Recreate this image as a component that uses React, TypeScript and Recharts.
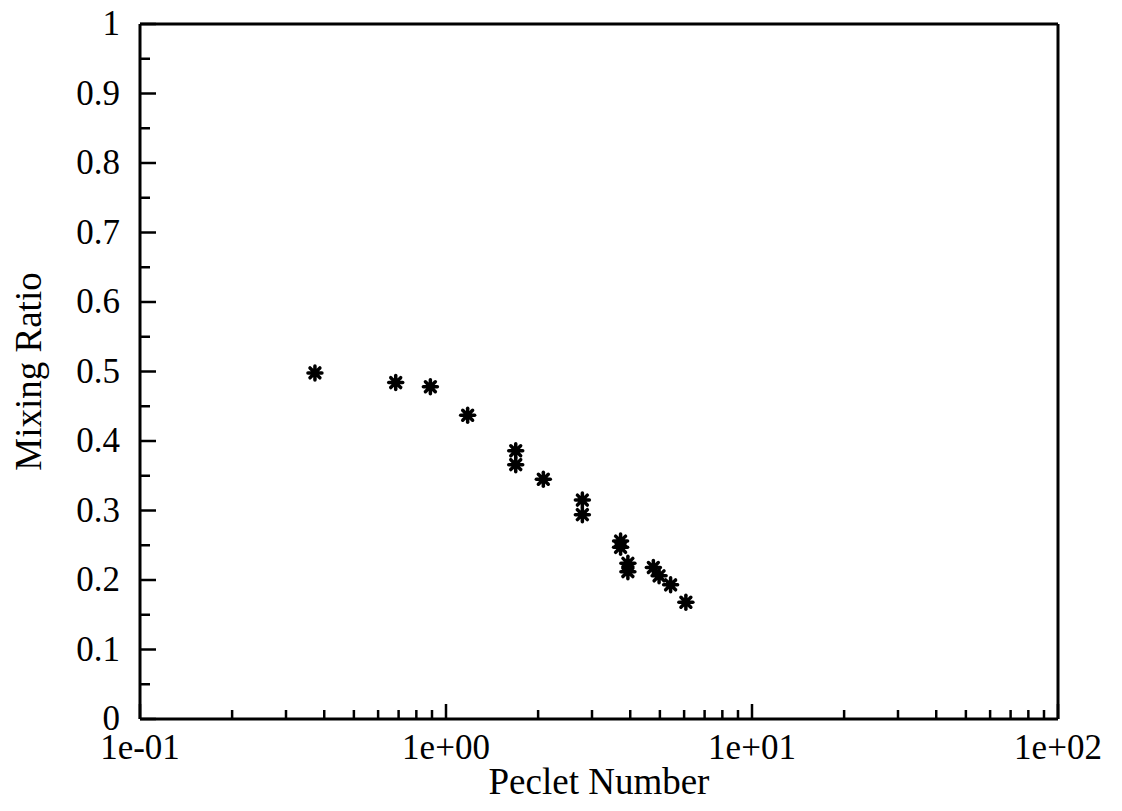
import { ScatterChart, Scatter, XAxis, YAxis, ReferenceLine } from "recharts";

// Peclet number vs mixing ratio
const peclet = [0.373, 0.685, 0.889, 1.177, 1.69, 1.69, 2.08, 2.79, 2.79, 3.72, 3.72, 3.93, 3.93, 4.76, 4.97, 5.42, 6.08];
const mixing = [0.498, 0.484, 0.478, 0.437, 0.386, 0.366, 0.345, 0.315, 0.294, 0.256, 0.247, 0.224, 0.212, 0.218, 0.206, 0.193, 0.168];

const xMajor = [0.1, 1, 10, 100];
const xLabels = ["1e-01", "1e+00", "1e+01", "1e+02"];
const xMinor = [0.2, 0.3, 0.4, 0.5, 0.6, 0.7, 0.8, 0.9, 2, 3, 4, 5, 6, 7, 8, 9, 20, 30, 40, 50, 60, 70, 80, 90];
const yMajor = [0, 0.1, 0.2, 0.3, 0.4, 0.5, 0.6, 0.7, 0.8, 0.9, 1];
const yLabels = ["0", "0.1", "0.2", "0.3", "0.4", "0.5", "0.6", "0.7", "0.8", "0.9", "1"];
const yMinor = [0.05, 0.15, 0.25, 0.35, 0.45, 0.55, 0.65, 0.75, 0.85, 0.95];

const FONT = "'Liberation Serif', 'DejaVu Serif', serif";

const data = peclet.map((p, i) => ({ pe: p, mix: mixing[i] }));

const XTick = ({ x, y, payload }: any) => {
  const idx = xMajor.indexOf(payload.value);
  const major = idx >= 0;
  return (
    <g>
      <line x1={x} x2={x} y1={y} y2={y - (major ? 15 : 9)} stroke="#000" strokeWidth={2.5} />
      {major && (
        <text x={x} y={y + 40} textAnchor="middle" fontFamily={FONT} fontSize={35} fill="#000">
          {xLabels[idx]}
        </text>
      )}
    </g>
  );
};

const YTick = ({ x, y, payload }: any) => {
  const idx = yMajor.findIndex((v) => Math.abs(v - payload.value) < 1e-9);
  const major = idx >= 0;
  return (
    <g>
      <line x1={x} x2={x + (major ? 16 : 10)} y1={y} y2={y} stroke="#000" strokeWidth={2.5} />
      {major && (
        <text x={x - 20} y={y + 11} textAnchor="end" fontFamily={FONT} fontSize={35} fill="#000">
          {yLabels[idx]}
        </text>
      )}
    </g>
  );
};

const Star = ({ cx, cy }: any) => {
  const r = 7;
  const d = r * 0.7071;
  return (
    <g stroke="#000" strokeWidth={3.5} strokeLinecap="round">
      <circle cx={cx} cy={cy} r={4.5} fill="#000" stroke="none" />
      <line x1={cx - r} y1={cy} x2={cx + r} y2={cy} />
      <line x1={cx} y1={cy - r} x2={cx} y2={cy + r} />
      <line x1={cx - d} y1={cy - d} x2={cx + d} y2={cy + d} />
      <line x1={cx - d} y1={cy + d} x2={cx + d} y2={cy - d} />
    </g>
  );
};

export default function App() {
  return (
    <div style={{ width: 1106, height: 795, background: "#fff" }}>
      <ScatterChart
        width={1106}
        height={795}
        margin={{ top: 16, right: 56, left: 0, bottom: 0 }}
      >
        <XAxis
          type="number"
          dataKey="pe"
          scale="log"
          domain={[0.1, 100]}
          ticks={[...xMajor, ...xMinor].sort((a, b) => a - b)}
          interval={0}
          tick={<XTick />}
          tickLine={false}
          tickSize={0}
          tickMargin={0}
          height={84}
          axisLine={{ stroke: "#000", strokeWidth: 3 }}
          allowDataOverflow
          label={{
            value: "Peclet Number",
            position: "insideBottom",
            offset: 0,
            dy: -9,
            style: { fontFamily: FONT, fontSize: 37, fill: "#000" },
          }}
        />
        <YAxis
          type="number"
          dataKey="mix"
          domain={[0, 1]}
          ticks={[...yMajor, ...yMinor].sort((a, b) => a - b)}
          interval={0}
          tick={<YTick />}
          tickLine={false}
          tickSize={0}
          tickMargin={0}
          width={132}
          axisLine={{ stroke: "#000", strokeWidth: 3 }}
          label={{
            value: "Mixing Ratio",
            angle: -90,
            position: "insideLeft",
            offset: 0,
            dx: 20,
            style: { fontFamily: FONT, fontSize: 37, fill: "#000", textAnchor: "middle" },
          }}
        />
        <ReferenceLine y={1} stroke="#000" strokeWidth={3} />
        <ReferenceLine x={100} stroke="#000" strokeWidth={3} />
        <Scatter data={data} shape={<Star />} isAnimationActive={false} />
      </ScatterChart>
    </div>
  );
}
